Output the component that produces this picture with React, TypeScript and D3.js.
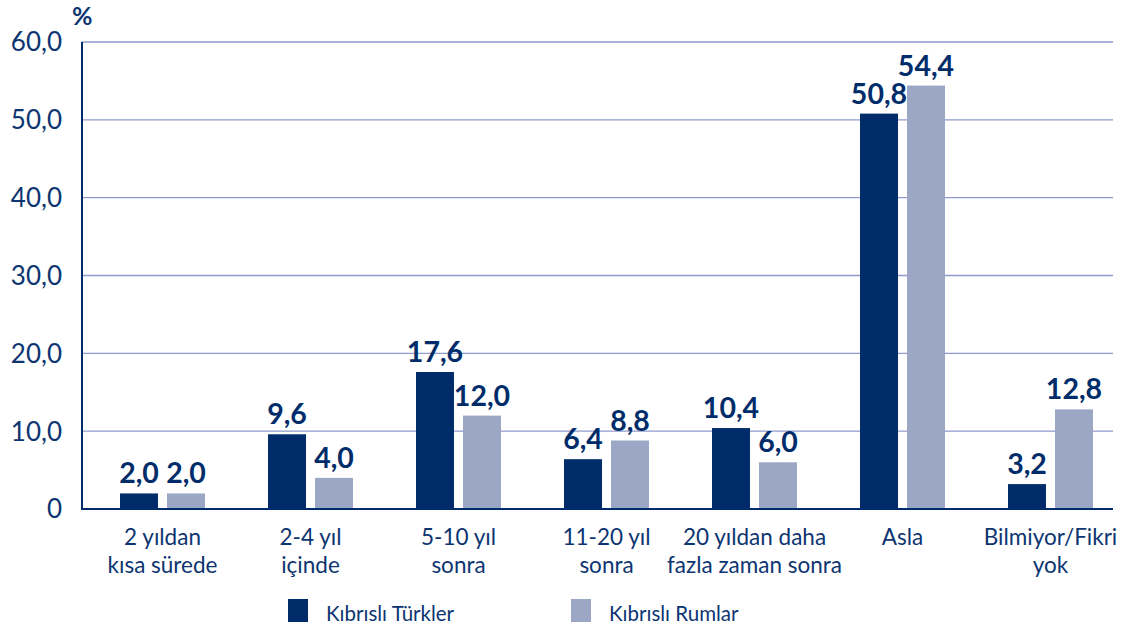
import React from "react";
import * as d3 from "d3";

const categories: string[][] = [
  ["2 yıldan", "kısa sürede"],
  ["2-4 yıl", "içinde"],
  ["5-10 yıl", "sonra"],
  ["11-20 yıl", "sonra"],
  ["20 yıldan daha", "fazla zaman sonra"],
  ["Asla"],
  ["Bilmiyor/Fikri", "yok"],
];
const seriesNames = ["Kıbrıslı Türkler", "Kıbrıslı Rumlar"];
const turkishCypriots = [2.0, 9.6, 17.6, 6.4, 10.4, 50.8, 3.2];
const greekCypriots = [2.0, 4.0, 12.0, 8.8, 6.0, 54.4, 12.8];
const yTicks = [0, 10, 20, 30, 40, 50, 60];

const W = 1146;
const H = 632;
const DARK = "#002d6a";
const LIGHT = "#9ca7c5";
const TEXT = "#0d3571";
const GRID = "#8e9bcb";
const FONT = "Lato, 'Open Sans', sans-serif";

const fmt = (v: number) => (v === 0 ? "0" : v.toFixed(1).replace(".", ","));

export default function App() {
  const keys = categories.map((c) => c.join(" "));
  const y = d3.scaleLinear().domain([0, 60]).range([509, 42]);
  const x0 = d3.scaleBand<string>().domain(keys).range([88.5, 88.5 + 7 * 148]).padding(0);
  const x1 = d3
    .scaleBand<string>()
    .domain(seriesNames)
    .range([0, 85])
    .paddingInner(9 / 47)
    .paddingOuter(0);
  const off = x0.bandwidth() / 2 - 42.5;
  const data = [turkishCypriots, greekCypriots];
  const colors = [DARK, LIGHT];

  return (
    <svg
      width={W}
      height={H}
      style={{ position: "absolute", left: 0, top: 0, background: "#fff" }}
      fontFamily={FONT}
    >
      {/* gridlines */}
      {yTicks
        .filter((t) => t > 0)
        .map((t) => (
          <line key={t} x1={82} x2={1113} y1={y(t)} y2={y(t)} stroke={GRID} strokeWidth={1.3} />
        ))}
      {/* y tick labels */}
      {yTicks.map((t) => (
        <text
          key={t}
          x={62}
          y={y(t)}
          dy="0.36em"
          textAnchor="end"
          fontSize={26}
          fill={TEXT}
        >
          {fmt(t)}
        </text>
      ))}
      <text x={72} y={25} fontSize={25} fontWeight={700} fill={TEXT}>
        %
      </text>
      {/* bars */}
      {data.map((vals, si) =>
        vals.map((v, i) => {
          const bx = (x0(keys[i]) as number) + off + (x1(seriesNames[si]) as number);
          return (
            <rect
              key={`${si}-${i}`}
              x={bx}
              y={y(v)}
              width={x1.bandwidth()}
              height={y(0) - y(v)}
              fill={colors[si]}
            />
          );
        })
      )}
      {/* value labels */}
      {data.map((vals, si) =>
        vals.map((v, i) => {
          const bx = (x0(keys[i]) as number) + off + (x1(seriesNames[si]) as number);
          return (
            <text
              key={`l${si}-${i}`}
              x={bx + x1.bandwidth() / 2}
              y={y(v) - 10}
              textAnchor="middle"
              fontSize={28.5}
              fontWeight={700}
              fill={DARK}
            >
              {fmt(v)}
            </text>
          );
        })
      )}
      {/* axes */}
      <line x1={82} x2={82} y1={42} y2={510} stroke={DARK} strokeWidth={2} />
      <line x1={81} x2={1113} y1={509} y2={509} stroke={DARK} strokeWidth={2} />
      {/* x labels */}
      {categories.map((lines, i) => (
        <text
          key={`x${i}`}
          x={(x0(keys[i]) as number) + x0.bandwidth() / 2}
          y={545}
          textAnchor="middle"
          fontSize={22.5}
          fill={TEXT}
        >
          {lines.map((l, j) => (
            <tspan key={j} x={(x0(keys[i]) as number) + x0.bandwidth() / 2} dy={j === 0 ? 0 : 28}>
              {l}
            </tspan>
          ))}
        </text>
      ))}
      {/* legend */}
      {seriesNames.map((s, si) => {
        const lx = [288, 571][si];
        return (
          <g key={s}>
            <rect x={lx} y={599} width={20} height={23} fill={colors[si]} />
            <text x={lx + 38} y={621} fontSize={20.5} fill={TEXT}>
              {s}
            </text>
          </g>
        );
      })}
    </svg>
  );
}
